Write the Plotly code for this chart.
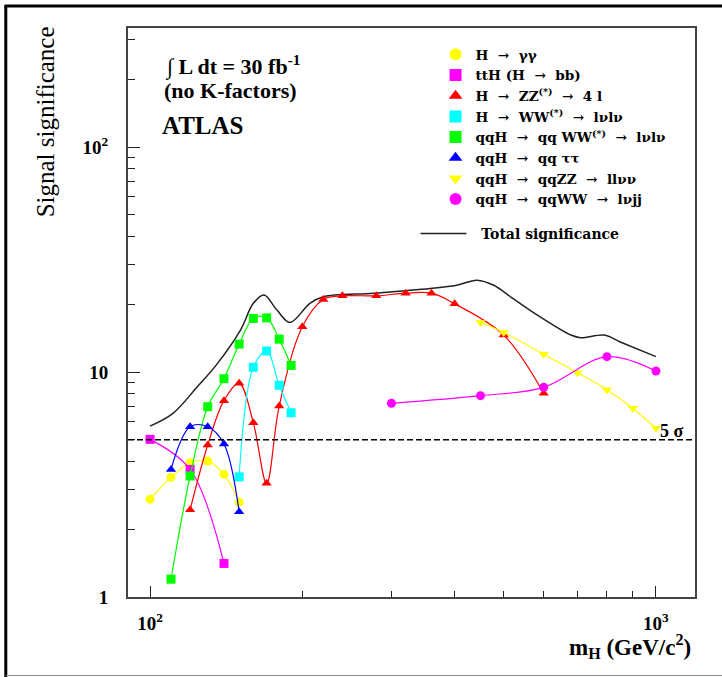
import plotly.graph_objects as go

# ---------------- data ----------------
gg_m = [100, 110, 120, 130, 140, 150]
gg_s = [2.72, 3.40, 3.95, 4.02, 3.51, 2.64]

tth_m = [100, 120, 140]
tth_s = [5.02, 3.69, 1.41]

zz_m = [120, 130, 140, 150, 160, 170, 180, 200, 220, 240, 280, 320, 360, 400, 500, 600]
zz_s = [2.44, 4.74, 7.46, 8.91, 5.95, 3.20, 7.06, 15.9, 21.0, 21.8, 21.8, 22.4, 22.4, 20.1, 14.6, 8.04]

ww_m = [150, 160, 170, 180, 190]
ww_s = [3.42, 10.5, 12.4, 8.73, 6.59]

qqww_m = [110, 120, 130, 140, 150, 160, 170, 180, 190]
qqww_s = [1.20, 3.45, 7.01, 9.34, 13.3, 17.3, 17.4, 14.0, 10.7]

qqtt_m = [110, 120, 130, 140, 150]
qqtt_s = [3.69, 5.71, 5.71, 4.79, 2.39]

qqzz_m = [450, 500, 600, 700, 800, 900, 1000]
qqzz_s = [16.6, 15.0, 12.0, 9.93, 8.33, 6.90, 5.62]

qqjj_m = [300, 450, 600, 800, 1000]
qqjj_s = [7.26, 7.85, 8.55, 11.7, 10.1]

tot_m = [100, 111, 124, 135, 151, 160, 168, 178, 189, 207, 220, 277, 358, 404, 443,
         478, 516, 583, 679, 710, 790, 850, 1000]
tot_s = [5.75, 6.55, 8.6, 10.7, 15.4, 20.2, 22.0, 18.9, 16.6, 20.2, 21.6, 22.4, 23.5,
         24.3, 25.6, 24.3, 21.6, 17.9, 14.6, 14.2, 14.6, 13.6, 11.7]

five_sigma = 5

NB = "\u00a0"
AR = NB + "\u2192" + NB + NB
labels = [
    "H" + NB + AR + "\u03b3\u03b3",
    "ttH (H" + NB + AR + "bb)",
    "H" + NB + AR + "ZZ<sup>(*)</sup>" + NB + AR + "4 l",
    "H" + NB + AR + "WW<sup>(*)</sup>" + NB + AR + "l\u03bdl\u03bd",
    "qqH" + NB + AR + "qq WW<sup>(*)</sup>" + NB + AR + "l\u03bdl\u03bd",
    "qqH" + NB + AR + "qq \u03c4\u03c4",
    "qqH" + NB + AR + "qqZZ" + NB + AR + "ll\u03bd\u03bd",
    "qqH" + NB + AR + "qqWW" + NB + AR + "l\u03bdjj",
]
series = [
    (gg_m, gg_s, "#ffff00", "circle"),
    (tth_m, tth_s, "#ff00ff", "square"),
    (zz_m, zz_s, "#ff0000", "triangle-up"),
    (ww_m, ww_s, "#00ffff", "square"),
    (qqww_m, qqww_s, "#00ff00", "square"),
    (qqtt_m, qqtt_s, "#0000ff", "triangle-up"),
    (qqzz_m, qqzz_s, "#ffff00", "triangle-down"),
    (qqjj_m, qqjj_s, "#ff00ff", "circle"),
]

SERIF = "Liberation Serif"
LEGF = "DejaVu Serif"

fig = go.Figure()

# total significance
fig.add_trace(go.Scatter(
    x=tot_m, y=tot_s, mode="lines", name=NB + NB + "Total significance",
    line=dict(color="#222222", width=1.5, shape="spline", smoothing=1.0),
    legend="legend2", showlegend=True,
))

for (m, s, col, sym), lab in zip(series, labels):
    fig.add_trace(go.Scatter(
        x=m, y=s, mode="lines+markers", showlegend=False,
        line=dict(color=col, width=1.2, shape="spline", smoothing=1.0),
        marker=dict(color=col, symbol=sym, size=9),
        hoverinfo="x+y",
    ))

for (m, s, col, sym), lab in zip(series, labels):
    fig.add_trace(go.Scatter(
        x=[None], y=[None], mode="markers", name=lab,
        marker=dict(color=col, symbol=sym, size=9),
        legend="legend", legendgroup=lab,
    ))

# 5 sigma line
fig.add_hline(y=five_sigma, line=dict(color="black", width=1.5, dash="6px,3px"))
fig.add_annotation(x=3.0, y=0.699, xref="x", yref="y", text="5 \u03c3", showarrow=False,
                   xanchor="left", yanchor="bottom", xshift=2, yshift=-3,
                   font=dict(family=SERIF, size=18, color="black", weight="bold"))


def px(xp):
    return (xp - 128) / 566


def py(yp):
    return (597 - yp) / 569


# texts top-left
fig.add_annotation(x=px(163), y=py(66), xref="paper", yref="paper",
                   text="\u222b L dt = 30 fb<sup>-1</sup>", showarrow=False,
                   xanchor="left", yanchor="middle",
                   font=dict(family=SERIF, size=22, color="black", weight="bold"))
fig.add_annotation(x=px(162), y=py(91), xref="paper", yref="paper",
                   text="(no K-factors)", showarrow=False,
                   xanchor="left", yanchor="middle",
                   font=dict(family=SERIF, size=22, color="black", weight="bold"))
fig.add_annotation(x=px(160), y=py(125), xref="paper", yref="paper",
                   text="ATLAS", showarrow=False,
                   xanchor="left", yanchor="middle",
                   font=dict(family=SERIF, size=25, color="black", weight="bold"))

# axis titles
fig.add_annotation(x=px(46), y=py(24), xref="paper", yref="paper", text="Signal significance",
                   showarrow=False, textangle=-90, xanchor="center", yanchor="top",
                   font=dict(family=SERIF, size=25, color="black"))
fig.add_annotation(x=px(692), y=py(646), xref="paper", yref="paper",
                   text="m<sub>H</sub> (GeV/c<sup>2</sup>)", showarrow=False,
                   xanchor="right", yanchor="middle",
                   font=dict(family=SERIF, size=23, color="black", weight="bold"))

# outer border
fig.add_shape(type="line", xref="paper", yref="paper", x0=px(5), x1=px(722),
              y0=py(6), y1=py(6), line=dict(color="black", width=3))
fig.add_shape(type="line", xref="paper", yref="paper", x0=px(6), x1=px(6),
              y0=py(5), y1=py(677), line=dict(color="black", width=3))
fig.add_shape(type="line", xref="paper", yref="paper", x0=px(6), x1=px(722),
              y0=py(675.5), y1=py(675.5), line=dict(color="#888888", width=1))

axis_common = dict(showgrid=False, zeroline=False, showline=True, linecolor="#444444",
                   linewidth=2, mirror=True, ticks="inside", tickcolor="#222222",
                   tickwidth=1.3,
                   tickfont=dict(family=SERIF, size=19, color="black", weight="bold"))

fig.update_xaxes(type="log", range=[1.9564, 3.0772], tickvals=[100, 1000],
                 ticktext=["10<sup>2</sup>", "10<sup>3</sup>"], ticklen=11,
                 ticklabelstandoff=8,
                 minor=dict(ticks="inside", ticklen=6, dtick="D1", tickcolor="#222222",
                            tickwidth=1.3, showgrid=False),
                 **axis_common)
fig.update_yaxes(type="log", range=[0, 2.529], tickvals=[1, 10, 100],
                 ticktext=["1", "10", "10<sup>2</sup>"], ticklen=12,
                 ticklabelstandoff=14,
                 minor=dict(ticks="inside", ticklen=7, dtick="D1", tickcolor="#222222",
                            tickwidth=1.3, showgrid=False),
                 **axis_common)

fig.update_layout(
    width=722, height=677,
    margin=dict(l=128, r=27, t=28, b=80),
    paper_bgcolor="white", plot_bgcolor="white",
    legend=dict(x=px(435), y=py(39), xanchor="left", yanchor="top",
                bgcolor="rgba(0,0,0,0)", borderwidth=0, tracegroupgap=0,
                font=dict(family=LEGF, size=13.6, color="black", weight="bold"),
                itemsizing="constant"),
    legend2=dict(x=px(415), y=py(218), xanchor="left", yanchor="top",
                 bgcolor="rgba(0,0,0,0)", borderwidth=0, itemwidth=46,
                 font=dict(family=LEGF, size=14, color="black", weight="bold")),
    showlegend=True,
)

fig.write_html("out.html", config={"displayModeBar": False},
               post_script="document.body.style.margin='0';")
